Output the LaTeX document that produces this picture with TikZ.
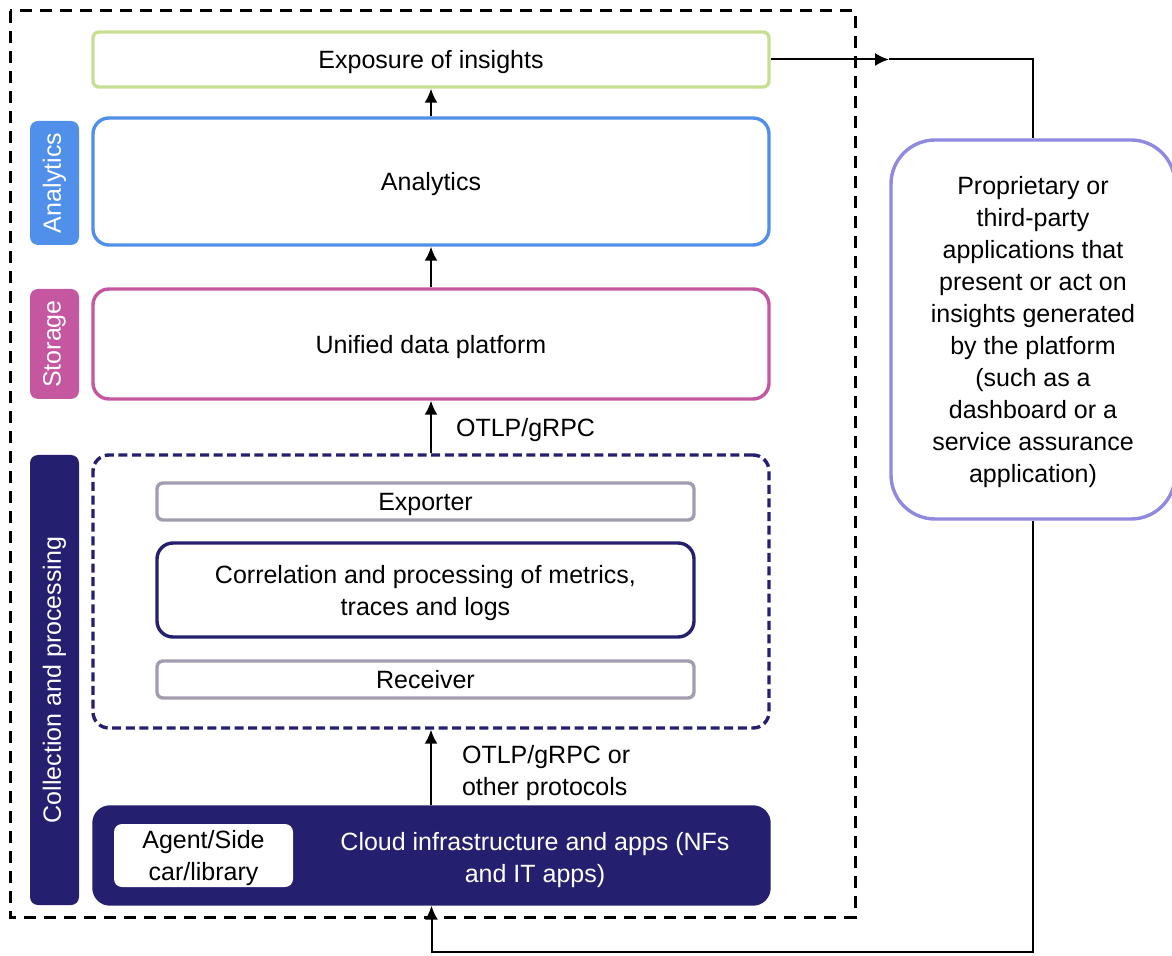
\documentclass[tikz,border=0pt]{standalone}
\usepackage{fontspec}
\setmainfont{Liberation Sans}
\usepackage{tikz}
\usetikzlibrary{positioning, arrows.meta, calc}
\definecolor{leaf}{RGB}{199,223,146}
\definecolor{sky}{RGB}{80,143,234}
\definecolor{berry}{RGB}{196,87,160}
\definecolor{navy}{RGB}{36,31,111}
\definecolor{ash}{RGB}{162,156,174}
\definecolor{lilac}{RGB}{143,137,224}

\begin{document}
\begin{tikzpicture}[x=0.5pt, y=-0.5pt, font=\fontsize{12.5}{16}\selectfont]
  \tikzset{
    layer/.style={draw, line width=1.7pt, rounded corners=8pt, minimum width=338pt, align=center, text depth=0pt},
    inner/.style={draw, line width=1.7pt, rounded corners=3pt, minimum width=268.5pt, align=center, text depth=0pt},
    tag/.style={fill, rounded corners=4pt, minimum height=24.5pt, rotate=90, text=white},
    arr/.style={line width=1pt, -{Latex[length=7pt, width=6.5pt]}},
    link/.style={line width=1pt},
    lbl/.style={anchor=west, align=left}}

  \useasboundingbox (0,0) rectangle (1172,956);

  % --- the platform
  \draw[line width=1.5pt, dash pattern=on 6pt off 4pt] (10,11) rectangle (855,917);

  \node[layer, draw=leaf, rounded corners=3pt, minimum height=27.5pt] (expo) at (431,59.5) {Exposure of insights};
  \node[layer, draw=sky, minimum height=63.5pt] (ana) at (431,181.5) {Analytics};
  \node[layer, draw=berry, minimum height=55pt] (store) at (431,344) {Unified data platform};

  % --- collection and processing
  \node[layer, draw=navy, dash pattern=on 4.5pt off 2.3pt, minimum height=136.5pt] (proc) at (431,591.5) {};
  \node[inner, draw=ash, minimum height=18.5pt] (export) at (425.5,501.5) {Exporter};
  \node[inner, draw=navy, rounded corners=8pt, minimum height=47pt] (corr) at (425.5,590)
    {Correlation and processing of metrics,\\traces and logs};
  \node[inner, draw=ash, minimum height=18.5pt] (recv) at (425.5,679.5) {Receiver};

  \node[layer, draw=navy, fill=navy, minimum width=337.5pt, minimum height=48.5pt] (cloud) at (431.5,855.5) {};
  \node[text=white, align=center, text depth=0pt] (cloudtxt) at (535,857) {Cloud infrastructure and apps (NFs\\and IT apps)};
  \node[fill=white, rounded corners=4pt, minimum width=89.5pt, minimum height=31.5pt, align=center, inner sep=0pt, text depth=0pt]
    (agent) at (203.5,855.5) {Agent/Side\\car/library};

  % --- side tags (rotated, so width is their height on the page)
  \node[tag, fill=sky, minimum width=62pt] (anatag) at (54.5,183) {Analytics};
  \node[tag, fill=berry, minimum width=55pt] (stotag) at (54.5,344) {Storage};
  \node[tag, fill=navy, minimum width=225pt] (coltag) at (54.5,680) {Collection and processing};

  % --- consumers
  \node[draw=lilac, line width=1.7pt, rounded corners=22pt, minimum width=142pt, minimum height=189.5pt, align=center, text depth=0pt]
    (app) at (1033,329.5)
    {Proprietary or\\third-party\\applications that\\present or act on\\insights generated\\by the platform\\(such as a\\dashboard or a\\service assurance\\application)};

  % --- flows
  \draw[arr] (ana.north) -- (expo.south);
  \draw[arr] (store.north) -- (ana.south);
  \draw[arr] (proc.north) -- (store.south);
  \draw[arr] (cloud.north -| proc.south) -- (proc.south);
  \node[lbl] (otlp) at (449,430) {OTLP/gRPC};
  \node[lbl] (otlpo) at (455,773) {OTLP/gRPC or\\other protocols};

  \coordinate (mid) at (889,59.5);
  \coordinate (back) at (431.5,952);
  \draw[arr] (expo.east) -- (mid);
  \draw[link] (mid) -| (app.north);
  \draw[arr] (app.south) |- (back) -- (cloud.south);
\end{tikzpicture}
\end{document}
